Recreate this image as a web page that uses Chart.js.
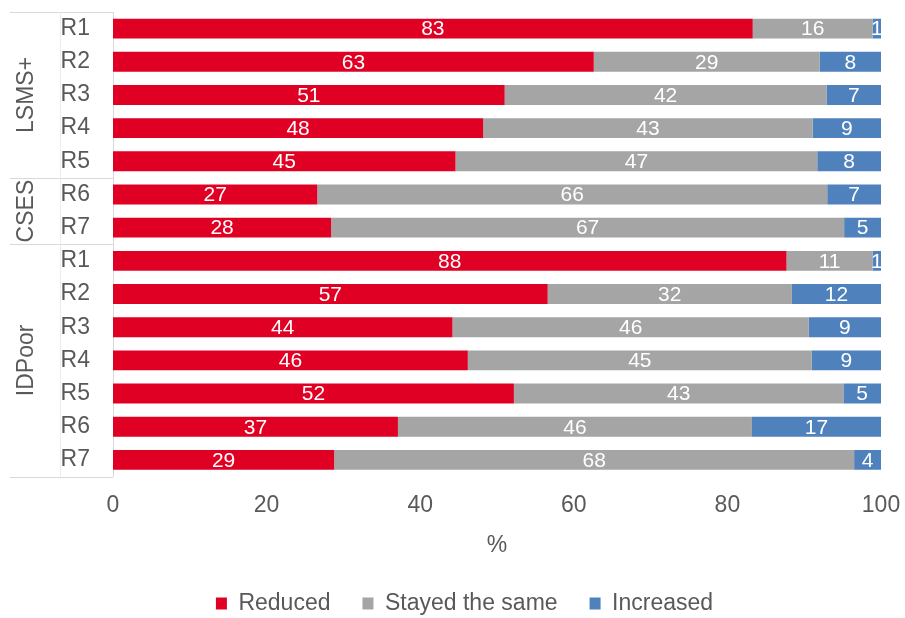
<!DOCTYPE html>
<html>
<head>
<meta charset="utf-8">
<script src="https://cdn.jsdelivr.net/npm/chart.js@4"></script>
<style>
  html, body { margin: 0; padding: 0; background: #ffffff; }
  #wrap { width: 905px; height: 618px; }
</style>
</head>
<body>
<div id="wrap"><canvas id="chart" width="905" height="618"></canvas></div>
<script>
// survey groups and the rounds within each
const groupNames = ['LSMS+', 'CSES', 'IDPoor'];
const groupRounds = [
  ['R1', 'R2', 'R3', 'R4', 'R5'],
  ['R6', 'R7'],
  ['R1', 'R2', 'R3', 'R4', 'R5', 'R6', 'R7']
];

// share of households (%)
const reduced   = [83.3, 62.6, 51.0, 48.2, 44.6, 26.6, 28.4, 87.7, 56.6, 44.2, 46.2, 52.2, 37.1, 28.8];
const stayed    = [15.6, 29.4, 41.9, 42.9, 47.1, 66.4, 66.8, 11.2, 31.8, 46.4, 44.8, 42.9, 46.1, 67.7];
const increased = [1.1, 8.0, 7.1, 8.9, 8.3, 7.0, 4.8, 1.1, 11.6, 9.4, 9.0, 4.9, 16.8, 3.5];

const xTicks = [0, 20, 40, 60, 80, 100];

const categories = groupRounds.flat();
const FONT = '"Liberation Sans", Arial, sans-serif';
const TEXT = '#595959';
const LINE = '#d9d9d9';

// white value labels centred in each segment
const segmentLabels = {
  id: 'segmentLabels',
  afterDatasetsDraw(chart) {
    const ctx = chart.ctx;
    ctx.save();
    ctx.font = '21px ' + FONT;
    ctx.fillStyle = '#ffffff';
    ctx.textAlign = 'center';
    ctx.textBaseline = 'middle';
    chart.data.datasets.forEach((ds, di) => {
      chart.getDatasetMeta(di).data.forEach((bar, i) => {
        const v = ds.data[i];
        ctx.fillText(String(Math.round(v)), (bar.x + bar.base) / 2, bar.y + 1);
      });
    });
    ctx.restore();
  }
};

// outer level of the category axis: group names and divider lines
const groupAxis = {
  id: 'groupAxis',
  afterDraw(chart) {
    const ctx = chart.ctx;
    const y = chart.scales.y;
    const area = chart.chartArea;
    const left = 10;
    const right = area.left;
    ctx.save();
    ctx.strokeStyle = LINE;
    ctx.lineWidth = 1;

    let start = 0;
    const edges = [area.top];
    groupRounds.forEach((rounds) => {
      const end = start + rounds.length;
      if (end < categories.length) {
        edges.push((y.getPixelForValue(end - 1) + y.getPixelForValue(end)) / 2);
      }
      start = end;
    });
    edges.push(area.bottom);

    edges.forEach((e) => {
      const yy = Math.round(e) + 0.5;
      ctx.beginPath();
      ctx.moveTo(left, yy);
      ctx.lineTo(right, yy);
      ctx.stroke();
    });

    ctx.strokeStyle = '#ececec';
    ctx.beginPath();
    ctx.moveTo(60.5, area.top);
    ctx.lineTo(60.5, area.bottom);
    ctx.stroke();

    ctx.font = '23px ' + FONT;
    ctx.fillStyle = TEXT;
    ctx.textAlign = 'center';
    ctx.textBaseline = 'middle';
    groupNames.forEach((name, g) => {
      const mid = (edges[g] + edges[g + 1]) / 2;
      ctx.save();
      ctx.translate(27, mid);
      ctx.rotate(-Math.PI / 2);
      ctx.fillText(name, 0, 0);
      ctx.restore();
    });
    ctx.restore();
  }
};

new Chart(document.getElementById('chart'), {
  type: 'bar',
  data: {
    labels: categories,
    datasets: [
      { label: 'Reduced', data: reduced, backgroundColor: '#e00024' },
      { label: 'Stayed the same', data: stayed, backgroundColor: '#a5a5a5' },
      { label: 'Increased', data: increased, backgroundColor: '#4f81bd' }
    ]
  },
  options: {
    indexAxis: 'y',
    responsive: false,
    animation: false,
    events: [],
    barPercentage: 0.6,
    categoryPercentage: 1,
    layout: { padding: { left: 48, right: 24, top: 12, bottom: -7 } },
    scales: {
      x: {
        stacked: true,
        min: 0,
        max: 100,
        afterBuildTicks(scale) {
          scale.ticks = xTicks.map((v) => ({ value: v }));
        },
        grid: { display: false, drawTicks: false },
        border: { display: false },
        ticks: { color: TEXT, font: { family: FONT, size: 23 }, padding: 15, maxRotation: 0 },
        title: {
          display: true,
          text: '%',
          color: TEXT,
          font: { family: FONT, size: 23 },
          padding: { top: 4, bottom: 1 }
        },
        afterFit(scale) {
          scale.height = 83.5;
          scale.paddingLeft = 0;
          scale.paddingRight = 0;
        }
      },
      y: {
        stacked: true,
        grid: { color: 'rgba(0,0,0,0)', drawTicks: false },
        border: { display: true, color: LINE, width: 1 },
        ticks: { color: TEXT, font: { family: FONT, size: 23 }, padding: 23, autoSkip: false },
        afterFit(scale) {
          scale.width = 65;
          scale.paddingTop = 0;
          scale.paddingBottom = 0;
        }
      }
    },
    plugins: {
      legend: {
        position: 'bottom',
        labels: {
          color: TEXT,
          font: { family: FONT, size: 23 },
          boxWidth: 11,
          boxHeight: 12,
          padding: 32
        }
      },
      tooltip: { enabled: false }
    }
  },
  plugins: [segmentLabels, groupAxis]
});
</script>
</body>
</html>
